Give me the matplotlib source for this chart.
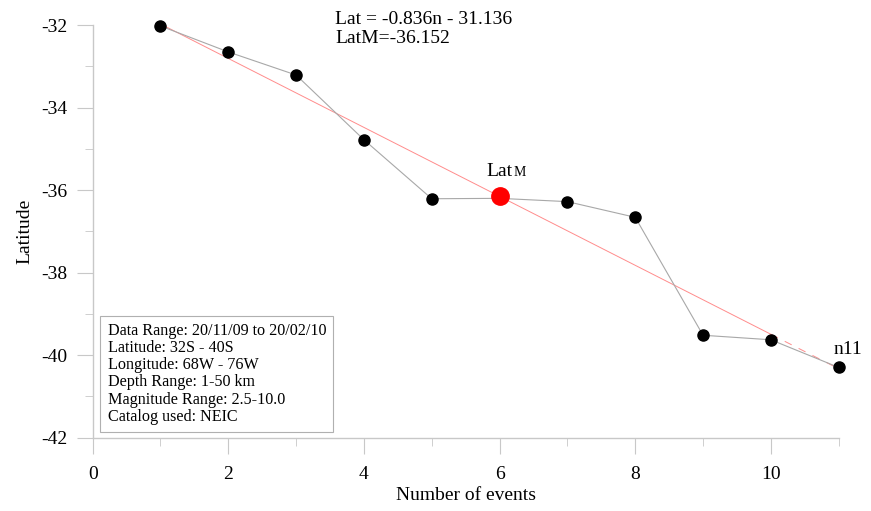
import matplotlib
matplotlib.use("Agg")
import matplotlib.pyplot as plt
import numpy as np

n_events = [1, 2, 3, 4, 5, 6, 7, 8, 9, 10, 11]
latitude = [-32.02, -32.65, -33.21, -34.78, -36.21, -36.2, -36.28, -36.66, -39.52, -39.63, -40.30]
slope = -0.836
intercept = -31.136
lat_mean = -36.152
mean_n = 6
x_ticks = [0, 2, 4, 6, 8, 10]
y_ticks = [-42, -40, -38, -36, -34, -32]
info_lines = ["Data Range: 20/11/09 to 20/02/10",
              "Latitude: 32S - 40S",
              "Longitude: 68W - 76W",
              "Depth Range: 1-50 km",
              "Magnitude Range: 2.5-10.0",
              "Catalog used: NEIC"]

plt.rcParams['font.family'] = ['Liberation Serif', 'DejaVu Serif']
plt.rcParams['axes.unicode_minus'] = False

fig = plt.figure(figsize=(8.71, 5.11), dpi=100)
ax = fig.add_axes([0.1064, 0.1438, 0.8565, 0.807])
ax.set_xlim(0, 11)
ax.set_ylim(-42, -32)

# regression line
xs_solid = np.array([n_events[0], n_events[-2]])
ax.plot(xs_solid, slope * xs_solid + intercept, color='#ff8c8c', lw=0.7, zorder=2, clip_on=False)
xs_dash = np.array([n_events[-2], n_events[-1]])
ax.plot(xs_dash, slope * xs_dash + intercept, color='#ff8c8c', lw=0.7, ls=(0, (8, 8)), zorder=2, clip_on=False)

# data
ax.plot(n_events, latitude, color='#a8a8a8', lw=0.8, zorder=3, clip_on=False)
ax.plot(n_events, latitude, 'o', color='black', ms=8, zorder=4, clip_on=False)
ax.plot([mean_n], [lat_mean], 'o', color='red', ms=12.5, zorder=5, clip_on=False)

for s in ['top', 'right']:
    ax.spines[s].set_visible(False)
for s in ['left', 'bottom']:
    ax.spines[s].set_color('#c8c8c8')
    ax.spines[s].set_linewidth(1.0)

ax.set_xticks(x_ticks)
ax.set_yticks(y_ticks)
ax.set_xticks([1, 3, 5, 7, 9, 11], minor=True)
ax.set_yticks([-41, -39, -37, -35, -33], minor=True)
ax.tick_params(axis='x', which='major', direction='out', length=11.5, color='#c8c8c8', labelsize=14, pad=9)
ax.tick_params(axis='x', which='minor', direction='out', length=6, color='#c8c8c8')
ax.tick_params(axis='y', which='major', direction='out', length=11.5, color='#c8c8c8', labelsize=14, pad=6.5)
ax.tick_params(axis='y', which='minor', direction='out', length=6, color='#c8c8c8')

ax.set_xlabel("Number of events", fontsize=14, labelpad=3)
ax.set_ylabel("Latitude", fontsize=14, labelpad=6)

fig.text(335 / 871, 1 - 11 / 511, "Lat = -0.836n - 31.136\nLatM=-36.152",
         fontsize=14, va='top', ha='left', linespacing=1.15)

t1 = ax.text(5.81, -35.67, "Lat", fontsize=14, ha='left', va='baseline')
fig.canvas.draw()
bb = t1.get_window_extent()
x_end = ax.transData.inverted().transform((bb.x1 + 1, 0))[0]
ax.text(x_end, -35.67, "M", fontsize=10, ha='left', va='baseline')
ax.text(11.14, -39.97, "n11", fontsize=14, ha='center', va='baseline')

ax.text(0.22, -39.22, "\n".join(info_lines), fontsize=11.6, va='top', ha='left',
        linespacing=1.1,
        bbox=dict(boxstyle='square,pad=0.45', facecolor='white', edgecolor='#b0b0b0', lw=0.8))

fig.savefig("out.png", dpi=100)
